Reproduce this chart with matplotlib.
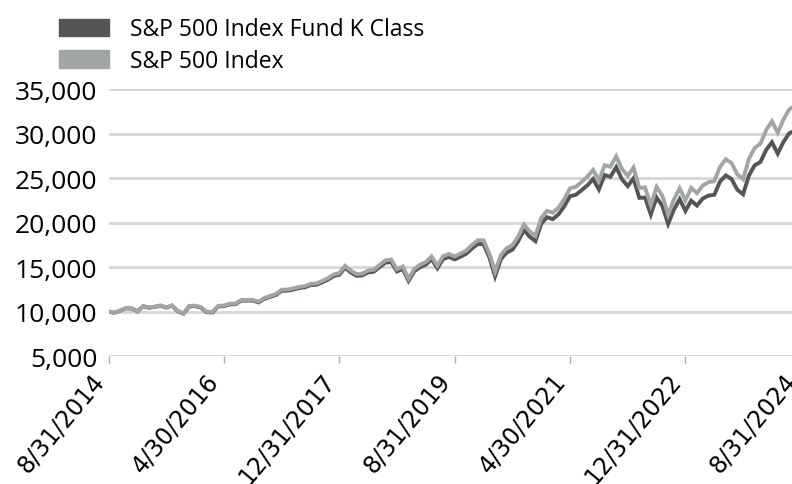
import matplotlib
matplotlib.use("Agg")
import matplotlib.pyplot as plt
from matplotlib.patches import Patch
from matplotlib.transforms import ScaledTranslation
import numpy as np
import pandas as pd

# growth of $10,000, monthly from 8/31/2014 to 8/31/2024
fund_k = [10000, 9850, 10090, 10360, 10330, 10020, 10590, 10420, 10520, 10650, 10440, 10660,
          10010, 9760, 10580, 10610, 10440, 9920, 9900, 10570, 10610, 10800, 10820, 11220,
          11230, 11230, 11020, 11420, 11650, 11860, 12330, 12340, 12460, 12630, 12710, 12970,
          13000, 13270, 13570, 13980, 14130, 14930, 14380, 14010, 14060, 14390, 14480, 15010,
          15490, 15570, 14500, 14790, 13450, 14520, 14980, 15270, 15880, 14860, 15900, 16120,
          15860, 16150, 16490, 17080, 17590, 17570, 16110, 13950, 15880, 16620, 16940, 17880,
          19150, 18410, 17900, 19850, 20600, 20380, 20920, 21820, 22960, 23110, 23630, 24170,
          24880, 23710, 25340, 25140, 26220, 24850, 24090, 24960, 22770, 22800, 20900, 22810,
          21870, 19840, 21440, 22620, 21300, 22450, 21900, 22690, 23030, 23110, 24610, 25290,
          24880, 23680, 23170, 25270, 26420, 26800, 28170, 29020, 27740, 29060, 30030, 30330,
          31000]
sp500 = [10000, 9860, 10101, 10373, 10347, 10037, 10614, 10446, 10546, 10682, 10475, 10695,
         10050, 9802, 10629, 10661, 10493, 9973, 9960, 10635, 10676, 10868, 10896, 11298,
         11314, 11316, 11110, 11521, 11749, 11972, 12447, 12462, 12590, 12768, 12847, 13112,
         13153, 13424, 13737, 14159, 14316, 15136, 14578, 14208, 14262, 14606, 14696, 15243,
         15740, 15830, 14747, 15048, 13689, 14785, 15260, 15556, 16186, 15158, 16227, 16461,
         16201, 16504, 16862, 17474, 18002, 17995, 16514, 14475, 16331, 17108, 17448, 18433,
         19758, 19007, 18501, 20527, 21315, 21100, 21682, 22632, 23840, 24007, 24566, 25151,
         25916, 24711, 26443, 26261, 27437, 26019, 25241, 26177, 23895, 23938, 21963, 23988,
         23009, 20890, 22582, 23844, 22471, 23882, 23299, 24154, 24531, 24636, 26265, 27108,
         26677, 25405, 24872, 27142, 28374, 28851, 30392, 31370, 30090, 31583, 32717, 33116,
         33921]
dates = pd.date_range("2014-08-31", periods=len(sp500), freq="ME")
tick_labels = ["8/31/2014", "4/30/2016", "12/31/2017", "8/31/2019",
               "4/30/2021", "12/31/2022", "8/31/2024"]
y_ticks = [5000, 10000, 15000, 20000, 25000, 30000, 35000]

dark = "#555555"
light = "#a2a5a5"

fig = plt.figure(figsize=(7.92, 4.85), dpi=100)
# plot runs a few pixels past the right edge, like the source image
ax = fig.add_axes([0.1371, 0.2639, 0.874, 0.5505])

x = np.arange(len(dates))
ax.plot(x, sp500, color=light, lw=2.8, solid_joinstyle="miter", zorder=3)
ax.plot(x, fund_k, color=dark, lw=2.8, solid_joinstyle="miter", zorder=2)

ax.set_xlim(0, len(dates) - 1)
ax.set_ylim(5000, 35000)
ax.set_yticks(y_ticks)
ax.set_yticklabels([f"{v:,}" for v in y_ticks], fontsize=19, family="Open Sans")
ax.set_xticks(x[::20])
ax.set_xticklabels(tick_labels, rotation=50, ha="right", va="top",
                   fontsize=17, family="DejaVu Sans")
# labels sit a little left of and below their ticks
shift = ScaledTranslation(-0.09, -0.05, fig.dpi_scale_trans)
for lab in ax.get_xticklabels():
    lab.set_transform(lab.get_transform() + shift)
ax.grid(axis="y", color="#d6d6d6", lw=2)
ax.set_axisbelow(True)
for s in ax.spines.values():
    s.set_visible(False)
ax.tick_params(axis="x", color="#aaaaaa", length=5, width=1, pad=4)
ax.tick_params(axis="y", length=0, pad=8)

handles = [Patch(color=dark, label="S&P 500 Index Fund K Class"),
           Patch(color=light, label="S&P 500 Index")]
fig.legend(handles=handles, loc="upper left", bbox_to_anchor=(0.0745, 0.962), frameon=False,
           prop={"family": "Open Sans", "size": 16.5},
           handlelength=2.2, handleheight=0.78, handletextpad=0.9,
           labelspacing=0.33, borderpad=0, borderaxespad=0)

fig.savefig("out.png", dpi=100)
